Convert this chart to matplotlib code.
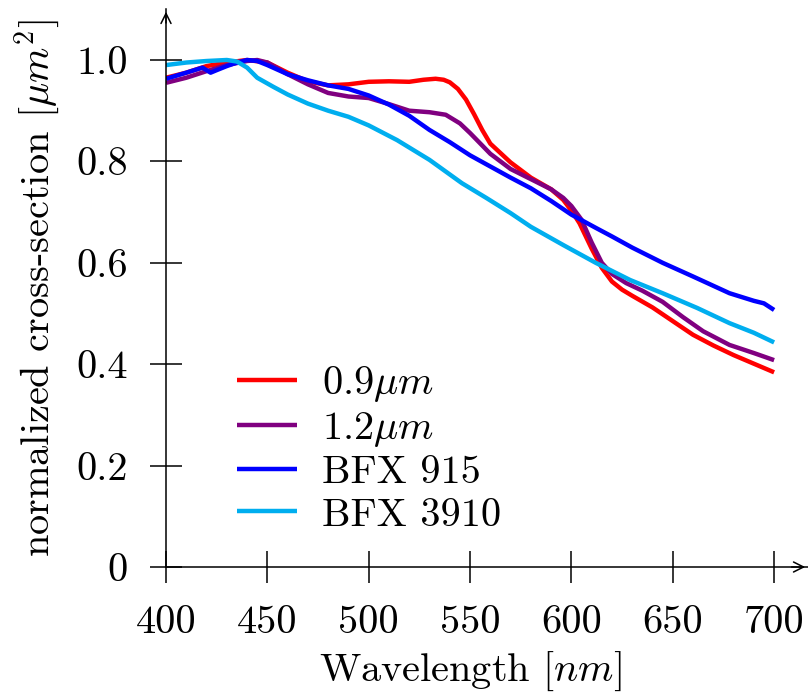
import matplotlib
matplotlib.use("Agg")
import matplotlib.pyplot as plt

plt.rcParams['font.family'] = 'serif'
plt.rcParams['font.serif'] = ['cmr10']
plt.rcParams['mathtext.fontset'] = 'cm'
plt.rcParams['axes.formatter.use_mathtext'] = True

# ---- data ----
wl_red = [400, 410, 420, 430, 440, 450, 460, 470, 480, 490, 500, 510, 520, 527, 533, 537, 540, 544, 548, 552,
          556, 560, 570, 580, 590, 596, 600, 604, 610, 615, 620, 625, 630, 640, 650, 660, 670, 680, 690, 700]
val_red = [0.965, 0.975, 0.988, 0.995, 1.0, 0.995, 0.975, 0.958, 0.950, 0.952, 0.957, 0.958, 0.957, 0.961,
           0.963, 0.961, 0.956, 0.943, 0.922, 0.893, 0.862, 0.835, 0.798, 0.768, 0.745, 0.724, 0.703, 0.678,
           0.628, 0.590, 0.563, 0.547, 0.535, 0.512, 0.485, 0.458, 0.437, 0.418, 0.401, 0.384]

wl_purple = [400, 410, 420, 430, 440, 445, 450, 460, 470, 480, 490, 500, 510, 520, 530, 538, 545, 550, 560,
             570, 580, 590, 596, 600, 605, 610, 615, 620, 627, 635, 645, 655, 665, 678, 690, 700]
val_purple = [0.955, 0.965, 0.978, 0.990, 0.998, 1.0, 0.995, 0.972, 0.952, 0.935, 0.928, 0.925, 0.913, 0.900,
              0.897, 0.892, 0.875, 0.856, 0.815, 0.785, 0.765, 0.745, 0.728, 0.712, 0.685, 0.640, 0.600, 0.578,
              0.560, 0.545, 0.523, 0.493, 0.465, 0.438, 0.422, 0.408]

wl_blue = [400, 410, 418, 422, 425, 430, 435, 440, 445, 450, 460, 470, 480, 490, 500, 510, 520, 530, 540, 550,
           560, 570, 580, 590, 600, 612, 620, 630, 645, 660, 678, 690, 695, 700]
val_blue = [0.963, 0.975, 0.985, 0.975, 0.980, 0.988, 0.995, 1.0, 0.998, 0.990, 0.972, 0.960, 0.950, 0.943,
            0.930, 0.912, 0.890, 0.862, 0.838, 0.812, 0.790, 0.768, 0.747, 0.722, 0.695, 0.669, 0.652, 0.630,
            0.600, 0.573, 0.540, 0.525, 0.520, 0.507]

wl_cyan = [400, 410, 420, 430, 435, 440, 445, 453, 460, 470, 480, 490, 500, 514, 530, 546, 558, 570, 580, 596,
           612, 629, 645, 662, 678, 690, 700]
val_cyan = [0.990, 0.995, 0.998, 1.0, 0.997, 0.985, 0.965, 0.947, 0.932, 0.914, 0.900, 0.888, 0.871, 0.842,
            0.803, 0.757, 0.728, 0.698, 0.671, 0.635, 0.600, 0.566, 0.540, 0.511, 0.481, 0.462, 0.443]

labels = [r'$0.9\mu m$', r'$1.2\mu m$', 'BFX 915', 'BFX 3910']
colors = ['#ff0000', '#800080', '#0000ff', '#00aeef']

x_ticks = [400, 450, 500, 550, 600, 650, 700]
y_ticks = [0, 0.2, 0.4, 0.6, 0.8, 1.0]
y_ticklabels = ['0', '0.2', '0.4', '0.6', '0.8', '1.0']

# ---- figure ----
fig = plt.figure(figsize=(8.08, 6.94), dpi=100)
ax = fig.add_axes([166 / 808, 127 / 694, 642 / 808, 558 / 694])

fs = 29
for wl, v, lab, c in zip([wl_red, wl_purple, wl_blue, wl_cyan],
                         [val_red, val_purple, val_blue, val_cyan], labels, colors):
    ax.plot(wl, v, color=c, lw=3.2, label=lab, solid_capstyle='butt', solid_joinstyle='round')

xmax = 400 + 642 / 2.027
ax.set_xlim(400, xmax)
ax.set_ylim(0, 558 / 507)

for s in ['top', 'right']:
    ax.spines[s].set_visible(False)
for s in ['left', 'bottom']:
    ax.spines[s].set_linewidth(1.1)

ax.set_xticks(x_ticks)
ax.set_xticklabels([str(t) for t in x_ticks])
ax.set_yticks(y_ticks)
ax.set_yticklabels(y_ticklabels)
ax.tick_params(direction='inout', length=23, width=1.1, labelsize=fs)
ax.tick_params(axis='x', pad=16)
ax.tick_params(axis='y', pad=16)

# arrows at the ends of the axis lines
ax.annotate('', xy=(1.0, 0), xytext=(0.97, 0), xycoords=('axes fraction', 'data'),
            textcoords=('axes fraction', 'data'),
            arrowprops=dict(arrowstyle='->', lw=1.1, color='k', mutation_scale=18), annotation_clip=False)
ax.annotate('', xy=(400, 1.0), xytext=(400, 0.97), xycoords=('data', 'axes fraction'),
            textcoords=('data', 'axes fraction'),
            arrowprops=dict(arrowstyle='->', lw=1.1, color='k', mutation_scale=18), annotation_clip=False)

ax.set_xlabel(r'Wavelength $[nm]$', fontsize=fs, labelpad=6)
ax.xaxis.label.set_x((550 - 400) / (xmax - 400))
ax.set_ylabel(r'normalized cross-section $[\mu m^2]$', fontsize=fs, labelpad=10)

leg = ax.legend(loc='upper left', bbox_to_anchor=(237 / 808, 1 - 364 / 694), bbox_transform=fig.transFigure,
                frameon=False, fontsize=fs, handlelength=1.5, handletextpad=0.6, labelspacing=0.15,
                borderaxespad=0, borderpad=0)

fig.savefig('out.png', dpi=100)
